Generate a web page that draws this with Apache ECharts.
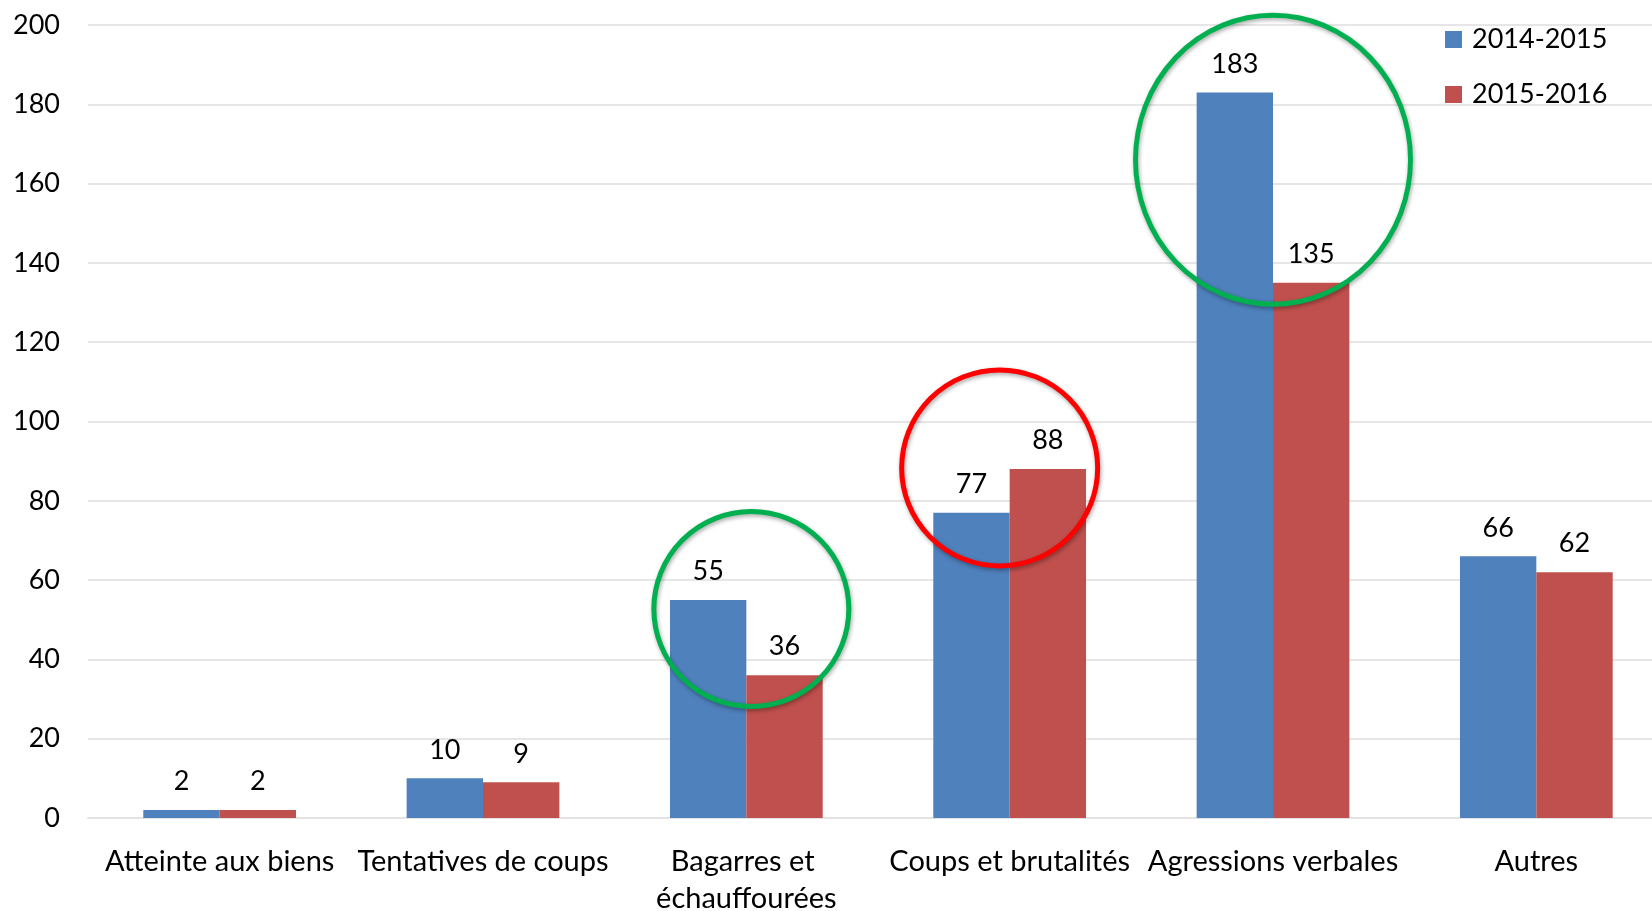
<!DOCTYPE html>
<html>
<head>
<meta charset="utf-8">
<script src="https://cdn.jsdelivr.net/npm/echarts@6/dist/echarts.min.js"></script>
<style>
html,body{margin:0;padding:0;background:#fff;}
#chart{width:1652px;height:911px;}
</style>
</head>
<body>
<div id="chart"></div>
<script>
const categories = ["Atteinte aux biens", "Tentatives de coups", "Bagarres et échauffourées", "Coups et brutalités", "Agressions verbales", "Autres"];
const series2014 = [2, 10, 55, 77, 183, 66];
const series2015 = [2, 9, 36, 88, 135, 62];
const seriesNames = ["2014-2015", "2015-2016"];
const yTicks = [0, 20, 40, 60, 80, 100, 120, 140, 160, 180, 200];
// annotation circles: [category index, value at circle centre]
const circleCats = [2, 3, 4];
const circleValues = [52.7, 88.3, 166];

const FONT = "Lato";
const chart = echarts.init(document.getElementById('chart'), null, {renderer: 'canvas'});

const circleStyles = [
  {size: [195, 195], color: '#00B050', offset: [5, 0]},
  {size: [196, 196], color: '#FF0000', offset: [-10, 0]},
  {size: [275, 289], color: '#00B050', offset: [0, 0]}
];

const labelStyle = {
  show: true, position: 'top', distance: 15,
  color: '#000', fontFamily: FONT, fontSize: 27
};

chart.setOption({
  animation: false,
  backgroundColor: '#fff',
  textStyle: {fontFamily: FONT},
  grid: {left: 88, right: -16, top: 25, bottom: 93, containLabel: false, outerBoundsMode: 'none'},
  legend: {
    data: seriesNames,
    orient: 'vertical',
    left: 1445, top: 26, padding: 0,
    itemWidth: 17, itemHeight: 17, itemGap: 28,
    icon: 'rect',
    textStyle: {color: '#000', fontFamily: FONT, fontSize: 27, padding: [0, 0, 0, 5]}
  },
  xAxis: {
    type: 'category',
    data: categories,
    axisTick: {show: false},
    axisLine: {show: true, lineStyle: {color: '#e3e3e3', width: 2}},
    axisLabel: {
      interval: 0, margin: 25, color: '#000', fontFamily: FONT, fontSize: 29,
      lineHeight: 37, width: 262, overflow: 'break'
    }
  },
  yAxis: {
    type: 'value',
    min: yTicks[0], max: yTicks[yTicks.length - 1], interval: yTicks[1] - yTicks[0],
    axisLine: {show: false},
    axisTick: {show: false},
    splitLine: {lineStyle: {color: '#e6e6e6', width: 2}},
    axisLabel: {margin: 28, color: '#000', fontFamily: FONT, fontSize: 27}
  },
  series: [
    {
      name: seriesNames[0], type: 'bar', data: series2014,
      barGap: '0%', barCategoryGap: '42%',
      itemStyle: {color: '#4F81BD'},
      label: labelStyle, z: 2
    },
    {
      name: seriesNames[1], type: 'bar', data: series2015,
      barGap: '0%', barCategoryGap: '42%',
      itemStyle: {color: '#C0504D'},
      label: labelStyle, z: 2
    },
    {
      name: 'annotations', type: 'scatter', z: 5,
      silent: true,
      data: circleCats.map((c, i) => ({
        value: [c, circleValues[i]],
        symbolSize: circleStyles[i].size,
        symbolOffset: circleStyles[i].offset,
        itemStyle: {
          color: 'rgba(0,0,0,0)', borderColor: circleStyles[i].color, borderWidth: 5,
          shadowBlur: 4, shadowColor: 'rgba(0,0,0,0.35)', shadowOffsetX: 1, shadowOffsetY: 2,
          opacity: 1
        }
      })),
      symbol: 'circle',
      label: {show: false}
    }
  ]
});
</script>
</body>
</html>
